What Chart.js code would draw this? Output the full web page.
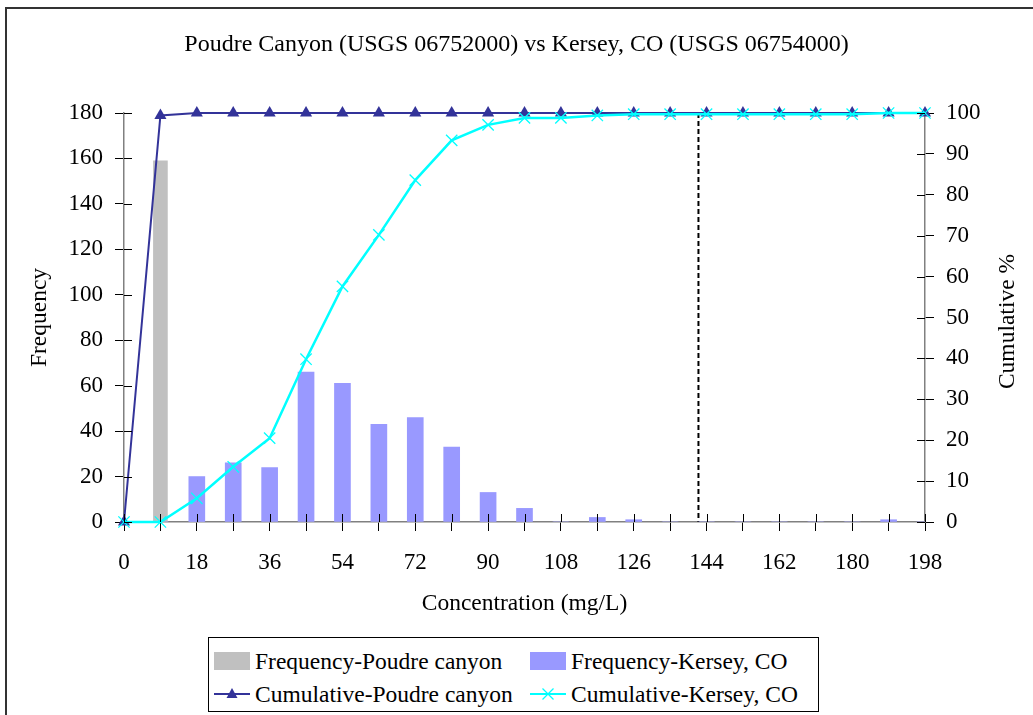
<!DOCTYPE html>
<html>
<head>
<meta charset="utf-8">
<title>Poudre Canyon vs Kersey, CO</title>
<script src="https://cdn.jsdelivr.net/npm/chart.js@4.4.1/dist/chart.umd.min.js"></script>
<style>
  html, body { margin: 0; padding: 0; background: #fff; overflow: hidden; }
  #frame { position: absolute; left: 5px; top: 7px; width: 1100px; height: 800px; border: 2px solid #333; }
  #wrap { position: absolute; left: 0; top: 0; width: 1033px; height: 715px; }
  #legend {
    position: absolute; left: 208px; top: 637px; width: 609px; height: 73px;
    border: 1px solid #000; background: #fff;
    font-family: "Liberation Serif", serif; font-size: 23.5px; color: #000;
  }
  #legend .item { position: absolute; display: flex; align-items: center; height: 30px; white-space: nowrap; }
  #legend svg { margin-right: 5px; }
</style>
</head>
<body>
<div id="frame"></div>
<div id="wrap"><canvas id="freqChart" width="1033" height="715"></canvas></div>
<div id="legend"></div>
<script>
// concentration bins (mg/L)
const concentration = [0, 9, 18, 27, 36, 45, 54, 63, 72, 81, 90, 99, 108, 117, 126, 135, 144, 153, 162, 171, 180, 189, 198];
const xTickLabels = [0, 18, 36, 54, 72, 90, 108, 126, 144, 162, 180, 198];

const freqPoudre = [0, 159, 1, 0, 0, 0, 0, 0, 0, 0, 0, 0, 0, 0, 0, 0, 0, 0, 0, 0, 0, 0, 0];
const freqKersey = [0, 0, 20, 26, 24, 66, 61, 43, 46, 33, 13, 6, 0, 2, 1, 0, 0, 0, 0, 0, 0, 1, 0];

const cumPoudre = [0, 99.4, 100, 100, 100, 100, 100, 100, 100, 100, 100, 100, 100, 100, 100, 100, 100, 100, 100, 100, 100, 100, 100];
const cumKersey = [0, 0, 5.8, 13.5, 20.5, 39.8, 57.6, 70.2, 83.6, 93.3, 97.1, 98.8, 98.8, 99.4, 99.7, 99.7, 99.7, 99.7, 99.7, 99.7, 99.7, 100, 100];

// vertical reference line (mg/L)
const limitLine = 142;

const FONT = "Liberation Serif";
const pts = (ys) => concentration.map((c, i) => ({ x: c, y: ys[i] }));

const legendSwatch = {
  bar: (c) => `<svg width="36" height="18"><rect x="0" y="0" width="36" height="18" fill="${c}"/></svg>`,
  triangle: (c) => `<svg width="36" height="18"><line x1="0" y1="9" x2="36" y2="9" stroke="${c}" stroke-width="2"/><polygon points="18,3 23.5,13 12.5,13" fill="${c}"/></svg>`,
  crossRot: (c) => `<svg width="36" height="18"><line x1="0" y1="9" x2="36" y2="9" stroke="${c}" stroke-width="2"/><line x1="12.5" y1="3.5" x2="23.5" y2="14.5" stroke="${c}" stroke-width="1.2"/><line x1="12.5" y1="14.5" x2="23.5" y2="3.5" stroke="${c}" stroke-width="1.2"/></svg>`
};

// cross-over tick marks, the dashed limit line and the right axis title
const axisDecor = {
  id: "axisDecor",
  beforeDatasetsDraw(chart) {
    const { ctx, chartArea: a, scales } = chart;
    const px = scales.x.getPixelForValue(limitLine);
    ctx.save();
    ctx.strokeStyle = "#000";
    ctx.lineWidth = 2;
    ctx.setLineDash([5, 3]);
    ctx.beginPath();
    ctx.moveTo(px, a.top);
    ctx.lineTo(px, a.bottom);
    ctx.stroke();
    ctx.restore();
  },
  afterDraw(chart) {
    const { ctx, chartArea: a, scales } = chart;
    ctx.save();
    ctx.strokeStyle = "#000";
    ctx.lineWidth = 1;
    ctx.beginPath();
    scales.x.ticks.forEach((t) => {
      const p = Math.round(scales.x.getPixelForValue(t.value)) + 0.5;
      ctx.moveTo(p, a.bottom);
      ctx.lineTo(p, a.bottom - 8);
    });
    scales.y.ticks.forEach((t) => {
      const p = Math.round(scales.y.getPixelForValue(t.value)) + 0.5;
      ctx.moveTo(a.left, p);
      ctx.lineTo(a.left + 8, p);
    });
    scales.y1.ticks.forEach((t) => {
      const p = Math.round(scales.y1.getPixelForValue(t.value)) + 0.5;
      ctx.moveTo(a.right, p);
      ctx.lineTo(a.right - 8, p);
    });
    ctx.stroke();

    ctx.translate(1008, (a.top + a.bottom) / 2 + 4);
    ctx.rotate(-Math.PI / 2);
    ctx.fillStyle = "#000";
    ctx.font = `23.5px "${FONT}"`;
    ctx.textAlign = "center";
    ctx.textBaseline = "middle";
    ctx.fillText("Cumulative %", 0, 0);
    ctx.restore();
  }
};

const tickFont = { family: FONT, size: 23 };
const titleFont = { family: FONT, size: 23.5 };

const chart = new Chart(document.getElementById("freqChart"), {
  type: "bar",
  data: {
    datasets: [
      {
        type: "bar", label: "Frequency-Poudre canyon", data: pts(freqPoudre),
        backgroundColor: "#c0c0c0", barThickness: 14, grouped: false, yAxisID: "y", order: 4,
        swatch: "bar"
      },
      {
        type: "bar", label: "Frequency-Kersey, CO", data: pts(freqKersey),
        backgroundColor: "#9999ff", barThickness: 16, grouped: false, yAxisID: "y", order: 3,
        swatch: "bar"
      },
      {
        type: "line", label: "Cumulative-Poudre canyon", data: pts(cumPoudre),
        borderColor: "#333399", backgroundColor: "#333399", borderWidth: 2,
        pointStyle: "triangle", pointRadius: 7, pointBorderWidth: 0, tension: 0,
        clip: false, yAxisID: "y1", order: 2, swatch: "triangle"
      },
      {
        type: "line", label: "Cumulative-Kersey, CO", data: pts(cumKersey),
        borderColor: "#00ffff", backgroundColor: "#00ffff", borderWidth: 2.5,
        pointStyle: "crossRot", pointRadius: 8, pointBorderWidth: 1.3, tension: 0,
        clip: false, yAxisID: "y1", order: 1, swatch: "crossRot"
      }
    ]
  },
  options: {
    responsive: false,
    animation: false,
    layout: { padding: 0 },
    plugins: {
      legend: { display: false },
      tooltip: { enabled: false },
      title: {
        display: true,
        text: "Poudre Canyon (USGS 06752000) vs Kersey, CO (USGS 06754000)",
        color: "#000",
        font: { family: FONT, size: 24, weight: "normal" },
        padding: { top: 30.6, bottom: 53.6 }
      }
    },
    scales: {
      x: {
        type: "linear", min: 0, max: 198, offset: false,
        afterFit: (s) => { s.height = 193; },
        ticks: {
          stepSize: 9, autoSkip: false, maxRotation: 0, padding: 18, color: "#000", font: tickFont,
          callback: (v) => (xTickLabels.includes(v) ? String(v) : "")
        },
        grid: { drawOnChartArea: false, offset: false, tickLength: 9, tickColor: "#000" },
        border: { color: "#808080", width: 1.5 },
        title: {
          display: true, text: "Concentration (mg/L)", color: "#000",
          font: titleFont, padding: { top: 0, bottom: 96.9 }
        }
      },
      y: {
        position: "left", min: 0, max: 180,
        afterFit: (s) => { s.width = 124; },
        ticks: { stepSize: 20, padding: 12, color: "#000", font: tickFont },
        grid: { drawOnChartArea: false, tickLength: 9, tickColor: "#000" },
        border: { color: "#808080", width: 1.5 },
        title: {
          display: true, text: "Frequency", color: "#000",
          font: titleFont, padding: { top: 25.9, bottom: 0 }
        }
      },
      y1: {
        position: "right", min: 0, max: 100,
        afterFit: (s) => { s.width = 108; },
        ticks: { stepSize: 10, padding: 12, color: "#000", font: tickFont },
        grid: { drawOnChartArea: false, tickLength: 9, tickColor: "#000" },
        border: { color: "#808080", width: 1.5 }
      }
    }
  },
  plugins: [axisDecor]
});

// two-column legend built from the chart's datasets
const legendEl = document.getElementById("legend");
chart.data.datasets.forEach((ds, i) => {
  const item = document.createElement("div");
  item.className = "item";
  item.style.left = (i % 2 === 0 ? 5 : 321) + "px";
  item.style.top = (i < 2 ? 8 : 41) + "px";
  item.innerHTML = legendSwatch[ds.swatch](ds.backgroundColor) + `<span>${ds.label}</span>`;
  legendEl.appendChild(item);
});
</script>
</body>
</html>
